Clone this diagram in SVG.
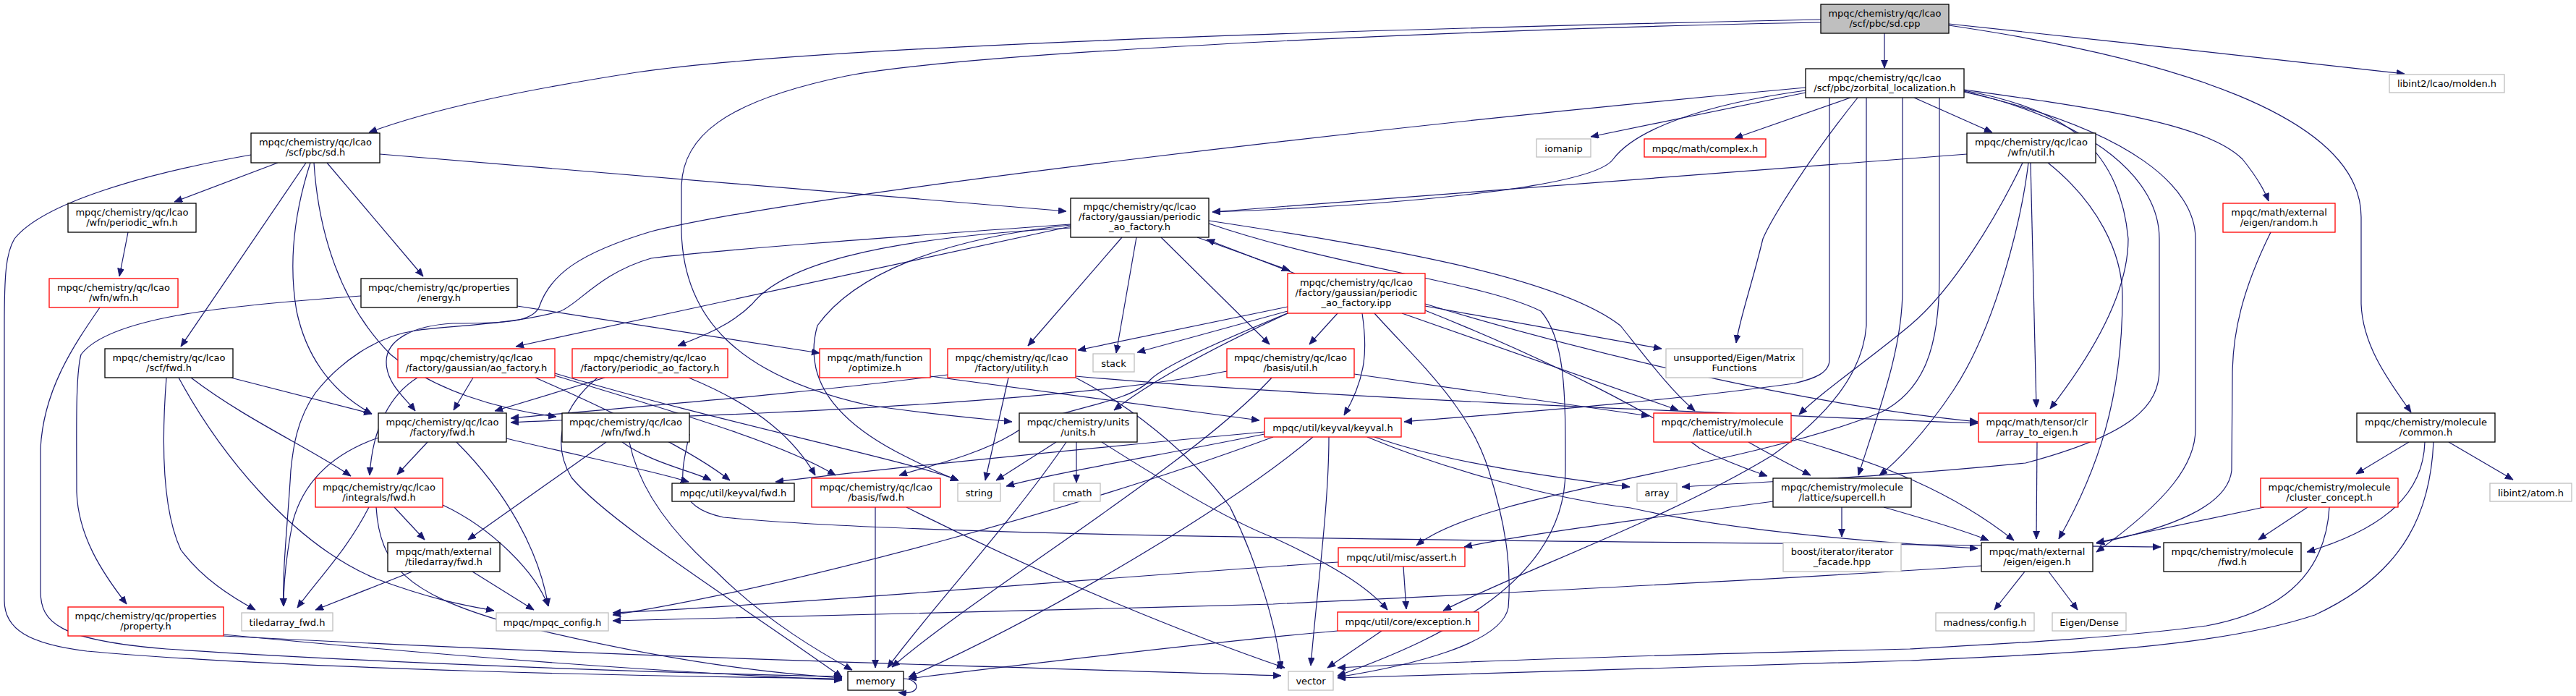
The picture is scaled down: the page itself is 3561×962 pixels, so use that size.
<svg xmlns="http://www.w3.org/2000/svg" width="3561" height="962" viewBox="0 0 3561 962">
<style>
.b rect{fill:#fff;stroke:#000;stroke-width:1.3}
.g rect{fill:#fff;stroke:#bfbfbf;stroke-width:1.3}
.r rect{fill:#fff;stroke:#f00;stroke-width:1.3}
.root rect{fill:#bfbfbf;stroke:#000;stroke-width:1.3}
text{font-family:'DejaVu Sans',sans-serif;font-size:13px;fill:#000;text-anchor:middle}
#edges path{fill:none;stroke:#191970;stroke-width:1.2;marker-end:url(#ah)}
</style>
<defs>
<marker id="ah" markerUnits="userSpaceOnUse" markerWidth="12" markerHeight="10" refX="11" refY="4.5" orient="auto"><path d="M0,0 L11,4.5 L0,9 z" fill="#191970" stroke="#191970" stroke-width="0.8"/></marker>
</defs>
<rect x="0" y="0" width="3561" height="962" fill="#fff"/>
<g id="edges">
<path d="M2605,46 L2605,94"/>
<path d="M2694,33 C2900,55 3150,82 3324,102"/>
<path d="M2694,35 C3000,80 3264,160 3264,300 L3264,420 C3266,480 3305,530 3333,570"/>
<path d="M2517,27 C2000,38 1150,60 880,100 C720,125 600,150 510,183"/>
<path d="M2517,31 C2100,38 1350,70 1170,105 C1000,140 942,190 942,260 L942,320 C945,440 1020,520 1200,560 C1280,572 1350,578 1399,583"/>
<path d="M384,225 L241,279"/>
<path d="M525,213 L1474,292"/>
<path d="M347,214 C200,240 60,280 20,330 C8,350 6,380 6,450 L6,830 C6,870 40,890 120,900 C400,925 900,935 1164,938"/>
<path d="M423,225 L250,479"/>
<path d="M429,225 C408,290 398,360 410,430 C425,500 465,545 514,572"/>
<path d="M434,225 C440,320 470,420 540,490 C600,540 690,566 769,576"/>
<path d="M452,225 L585,382"/>
<path d="M177,321 L165,382"/>
<path d="M138,425 C100,480 60,540 56,620 L56,817 C56,860 80,885 230,897 C500,915 900,930 1164,935"/>
<path d="M499,409 C300,423 150,440 112,490 C104,520 106,600 106,680 C108,740 140,790 175,835"/>
<path d="M715,423 L1133,488"/>
<path d="M309,877 C600,905 900,928 1164,940"/>
<path d="M309,879 C900,910 1400,922 1771,934"/>
<path d="M319,522 L514,572"/>
<path d="M230,522 C224,600 222,700 250,760 C280,800 320,825 353,843"/>
<path d="M247,522 C300,620 400,750 520,800 C600,830 650,838 683,844"/>
<path d="M264,522 C340,580 430,620 485,658"/>
<path d="M523,605 C460,627 420,665 405,720 C395,770 392,810 392,838"/>
<path d="M591,611 L549,656"/>
<path d="M631,611 C700,680 745,760 758,838"/>
<path d="M700,606 C800,630 900,650 952,666"/>
<path d="M838,611 L647,746"/>
<path d="M860,611 C900,640 960,652 983,664"/>
<path d="M870,611 C880,660 910,720 990,790 C1060,860 1140,905 1178,926"/>
<path d="M953,600 C940,660 930,700 1000,715 C1300,745 2200,748 2987,756"/>
<path d="M654,522 L627,567"/>
<path d="M577,522 C540,545 515,590 511,657"/>
<path d="M740,522 C850,570 960,625 1009,664"/>
<path d="M767,519 C900,560 1080,610 1155,657"/>
<path d="M767,516 C1000,585 1250,635 1325,664"/>
<path d="M1480,313 L713,479"/>
<path d="M1480,315 C1200,330 1080,370 1040,420 C1010,450 970,465 937,478"/>
<path d="M1551,328 L1421,478"/>
<path d="M1571,328 L1543,488"/>
<path d="M1605,328 L1755,476"/>
<path d="M1655,328 L1783,374"/>
<path d="M1790,378 L1668,331"/>
<path d="M1671,305 C1900,340 2150,380 2240,450 C2280,500 2310,540 2343,568"/>
<path d="M1671,309 C1850,370 2050,390 2130,430 C2165,470 2164,550 2164,650 C2164,800 2000,880 1849,934"/>
<path d="M1480,310 C1200,330 1000,345 900,357 C830,377 800,420 775,430 C700,450 620,450 574,457 C520,465 470,500 436,543 C410,580 405,620 402,650 C398,720 390,790 392,838"/>
<path d="M1480,311 C1300,330 1180,380 1130,450 C1110,520 1150,580 1250,630 C1280,645 1300,655 1325,664"/>
<path d="M2496,128 L2199,189"/>
<path d="M2558,135 L2398,191"/>
<path d="M2646,135 L2754,183"/>
<path d="M2715,124 C2900,150 3050,170 3100,220 C3120,245 3130,262 3136,278"/>
<path d="M2496,125 C2350,145 2260,180 2230,220 C2200,262 1900,285 1676,293"/>
<path d="M2719,213 L1676,293"/>
<path d="M2496,121 C1900,175 1100,270 900,320 C800,350 760,380 745,425 C735,445 700,447 626,447 C570,450 534,470 534,500 C534,530 560,550 574,568"/>
<path d="M2568,135 C2500,220 2450,300 2437,330 C2420,400 2405,440 2400,474"/>
<path d="M2529,135 L2529,497 C2529,515 2510,523 2480,530 C2300,555 2100,570 1941,583"/>
<path d="M2580,135 L2580,450 C2575,520 2520,580 2449,630 C2300,720 2100,790 1995,844"/>
<path d="M2630,135 L2630,400 C2630,480 2600,560 2569,657"/>
<path d="M2681,135 L2681,380 C2681,480 2660,540 2600,570 C2400,650 2050,680 1958,754"/>
<path d="M2715,125 C2850,150 2930,200 2942,330 C2942,400 2900,480 2834,565"/>
<path d="M2715,126 C2900,170 2985,250 2985,330 L2985,510 C2985,560 2950,600 2800,640 C2600,660 2450,665 2325,673"/>
<path d="M2715,127 C2950,180 3035,260 3035,330 L3035,593 C3035,640 3000,690 2898,763"/>
<path d="M3139,321 C3100,400 3086,460 3086,520 L3085,650 C3080,700 3000,730 2898,751"/>
<path d="M1780,424 L1490,484"/>
<path d="M1780,430 L1572,487"/>
<path d="M1780,433 C1700,470 1600,520 1540,567"/>
<path d="M1849,433 L1810,476"/>
<path d="M1883,433 C1890,480 1890,520 1858,574"/>
<path d="M1938,433 L2320,567"/>
<path d="M1970,420 C2200,490 2500,560 2734,583"/>
<path d="M1970,423 L2297,482"/>
<path d="M1900,433 C1960,500 2030,560 2058,650 C2080,720 2090,780 2085,840 C2075,890 1950,920 1849,936"/>
<path d="M1782,432 C1690,470 1610,505 1590,525 C1560,560 1450,565 1400,600 C1350,630 1280,645 1243,657"/>
<path d="M1960,425 C2150,500 2300,580 2350,620 C2390,640 2420,650 2443,658"/>
<path d="M1487,520 C1800,548 2300,568 2734,585"/>
<path d="M1394,522 L1362,664"/>
<path d="M1310,518 C1100,545 900,560 706,578"/>
<path d="M1487,522 C1560,560 1640,620 1700,700 C1740,780 1765,870 1771,925"/>
<path d="M1872,517 L2280,575"/>
<path d="M1758,522 C1650,640 1350,820 1233,922"/>
<path d="M1696,513 C1500,552 1100,570 880,578 C800,580 740,582 706,584"/>
<path d="M836,522 L684,568"/>
<path d="M952,522 C1052,563 1100,610 1127,657"/>
<path d="M826,522 C780,560 760,610 790,660 C840,720 1000,820 1164,936"/>
<path d="M1286,520 L1741,581"/>
<path d="M1460,611 L1377,664"/>
<path d="M1474,611 C1400,720 1280,850 1227,923"/>
<path d="M1488,611 L1488,667"/>
<path d="M1523,611 C1600,660 1700,720 1760,743 C1840,780 1890,810 1918,843"/>
<path d="M1900,604 C2000,640 2150,660 2253,673"/>
<path d="M1890,604 C2000,650 2150,690 2254,702 C2400,735 2600,750 2734,758"/>
<path d="M1837,604 C1837,700 1820,820 1812,920"/>
<path d="M1815,604 C1700,700 1450,850 1256,936"/>
<path d="M1748,597 C1500,620 1200,650 1072,666"/>
<path d="M1748,600 C1600,630 1450,655 1391,672"/>
<path d="M1760,604 C1500,700 1100,810 847,850"/>
<path d="M2417,611 C2450,630 2480,645 2503,657"/>
<path d="M2476,605 C2600,640 2700,680 2784,747"/>
<path d="M2451,693 C2250,720 2100,740 2024,756"/>
<path d="M2604,701 C2660,717 2720,735 2749,747"/>
<path d="M2546,701 L2546,742"/>
<path d="M2796,225 C2760,300 2700,400 2640,450 C2580,500 2520,540 2487,573"/>
<path d="M2804,225 C2795,300 2760,450 2700,540 C2660,600 2620,640 2598,657"/>
<path d="M2807,225 L2815,563"/>
<path d="M2831,225 C2900,280 2934,350 2934,410 C2934,550 2900,650 2846,745"/>
<path d="M2816,611 L2815,745"/>
<path d="M3330,611 L3257,655"/>
<path d="M3385,611 L3474,663"/>
<path d="M3352,611 C3350,680 3300,730 3189,763"/>
<path d="M3364,611 C3360,700 3330,790 3200,850 C3050,900 2800,905 2640,913 C2300,925 2000,932 1849,937"/>
<path d="M3220,701 C3215,790 3160,845 3050,865 C2900,885 2700,893 2640,897 C2300,905 2000,915 1849,923"/>
<path d="M3130,701 L2898,750"/>
<path d="M3190,701 L3122,746"/>
<path d="M2799,790 L2757,843"/>
<path d="M2832,790 L2872,843"/>
<path d="M2739,782 C2400,805 1900,828 1760,835 C1400,845 1000,855 847,858"/>
<path d="M1940,783 L1944,842"/>
<path d="M1850,777 C1500,800 1100,835 847,847"/>
<path d="M1910,872 L1835,923"/>
<path d="M1849,872 C1700,885 1400,920 1256,938"/>
<path d="M510,701 C480,760 440,800 411,840"/>
<path d="M545,701 L587,746"/>
<path d="M612,698 C680,730 740,790 758,838"/>
<path d="M520,701 C525,780 560,820 700,860 C900,910 1050,930 1164,937"/>
<path d="M570,790 L436,843"/>
<path d="M653,790 L738,843"/>
<path d="M1210,701 L1210,923"/>
<path d="M1253,701 C1450,800 1650,880 1776,923"/>
<path d="M1249,938 C1272,938 1276,962 1242,957"/>
</g>
<g id="n_sdcpp" class="root"><rect x="2517" y="6" width="177" height="40"/><text x="2605.5" y="22.5">mpqc/chemistry/qc/lcao</text><text x="2605.5" y="36.5">/scf/pbc/sd.cpp</text></g>
<g id="n_zorb" class="b"><rect x="2496" y="95" width="219" height="40"/><text x="2605.5" y="111.5">mpqc/chemistry/qc/lcao</text><text x="2605.5" y="125.5">/scf/pbc/zorbital_localization.h</text></g>
<g id="n_molden" class="g"><rect x="3303" y="103" width="159" height="25"/><text x="3382.5" y="120">libint2/lcao/molden.h</text></g>
<g id="n_sdh" class="b"><rect x="347" y="184" width="178" height="41"/><text x="436" y="201">mpqc/chemistry/qc/lcao</text><text x="436" y="215">/scf/pbc/sd.h</text></g>
<g id="n_iomanip" class="g"><rect x="2124" y="192" width="75" height="25"/><text x="2161.5" y="209.5">iomanip</text></g>
<g id="n_complex" class="r"><rect x="2273" y="192" width="168" height="25"/><text x="2357" y="209.5">mpqc/math/complex.h</text></g>
<g id="n_wfnutil" class="b"><rect x="2719" y="184" width="178" height="41"/><text x="2808" y="201">mpqc/chemistry/qc/lcao</text><text x="2808" y="215">/wfn/util.h</text></g>
<g id="n_random" class="r"><rect x="3073" y="281" width="155" height="40"/><text x="3150.5" y="297.5">mpqc/math/external</text><text x="3150.5" y="311.5">/eigen/random.h</text></g>
<g id="n_pwfn" class="b"><rect x="94" y="281" width="177" height="40"/><text x="182.5" y="297.5">mpqc/chemistry/qc/lcao</text><text x="182.5" y="311.5">/wfn/periodic_wfn.h</text></g>
<g id="n_paf" class="b"><rect x="1480" y="274" width="191" height="54"/><text x="1575.5" y="290">mpqc/chemistry/qc/lcao</text><text x="1575.5" y="304">/factory/gaussian/periodic</text><text x="1575.5" y="318">_ao_factory.h</text></g>
<g id="n_wfn" class="r"><rect x="68" y="385" width="178" height="40"/><text x="157" y="401.5">mpqc/chemistry/qc/lcao</text><text x="157" y="415.5">/wfn/wfn.h</text></g>
<g id="n_energy" class="b"><rect x="499" y="385" width="216" height="40"/><text x="607" y="401.5">mpqc/chemistry/qc/properties</text><text x="607" y="415.5">/energy.h</text></g>
<g id="n_ipp" class="r"><rect x="1780" y="378" width="190" height="55"/><text x="1875" y="394.5">mpqc/chemistry/qc/lcao</text><text x="1875" y="408.5">/factory/gaussian/periodic</text><text x="1875" y="422.5">_ao_factory.ipp</text></g>
<g id="n_aof" class="r"><rect x="550" y="482" width="217" height="40"/><text x="658.5" y="498.5">mpqc/chemistry/qc/lcao</text><text x="658.5" y="512.5">/factory/gaussian/ao_factory.h</text></g>
<g id="n_pafh" class="r"><rect x="791" y="482" width="215" height="40"/><text x="898.5" y="498.5">mpqc/chemistry/qc/lcao</text><text x="898.5" y="512.5">/factory/periodic_ao_factory.h</text></g>
<g id="n_optimize" class="r"><rect x="1133" y="482" width="153" height="40"/><text x="1209.5" y="498.5">mpqc/math/function</text><text x="1209.5" y="512.5">/optimize.h</text></g>
<g id="n_utility" class="r"><rect x="1310" y="482" width="177" height="40"/><text x="1398.5" y="498.5">mpqc/chemistry/qc/lcao</text><text x="1398.5" y="512.5">/factory/utility.h</text></g>
<g id="n_stack" class="g"><rect x="1511" y="489" width="57" height="25"/><text x="1539.5" y="506.5">stack</text></g>
<g id="n_butil" class="r"><rect x="1696" y="482" width="176" height="40"/><text x="1784" y="498.5">mpqc/chemistry/qc/lcao</text><text x="1784" y="512.5">/basis/util.h</text></g>
<g id="n_matfun" class="g"><rect x="2303" y="482" width="189" height="40"/><text x="2397.5" y="498.5">unsupported/Eigen/Matrix</text><text x="2397.5" y="512.5">Functions</text></g>
<g id="n_scffwd" class="b"><rect x="145" y="482" width="177" height="40"/><text x="233.5" y="498.5">mpqc/chemistry/qc/lcao</text><text x="233.5" y="512.5">/scf/fwd.h</text></g>
<g id="n_ffwd" class="b"><rect x="523" y="571" width="177" height="40"/><text x="611.5" y="587.5">mpqc/chemistry/qc/lcao</text><text x="611.5" y="601.5">/factory/fwd.h</text></g>
<g id="n_wfwd" class="b"><rect x="777" y="571" width="176" height="40"/><text x="865" y="587.5">mpqc/chemistry/qc/lcao</text><text x="865" y="601.5">/wfn/fwd.h</text></g>
<g id="n_units" class="b"><rect x="1409" y="571" width="163" height="40"/><text x="1490.5" y="587.5">mpqc/chemistry/units</text><text x="1490.5" y="601.5">/units.h</text></g>
<g id="n_keyval" class="r"><rect x="1748" y="578" width="189" height="26"/><text x="1842.5" y="596">mpqc/util/keyval/keyval.h</text></g>
<g id="n_lutil" class="r"><rect x="2286" y="571" width="190" height="40"/><text x="2381" y="587.5">mpqc/chemistry/molecule</text><text x="2381" y="601.5">/lattice/util.h</text></g>
<g id="n_a2e" class="r"><rect x="2735" y="571" width="162" height="40"/><text x="2816" y="587.5">mpqc/math/tensor/clr</text><text x="2816" y="601.5">/array_to_eigen.h</text></g>
<g id="n_common" class="b"><rect x="3258" y="571" width="191" height="40"/><text x="3353.5" y="587.5">mpqc/chemistry/molecule</text><text x="3353.5" y="601.5">/common.h</text></g>
<g id="n_ifwd" class="r"><rect x="436" y="661" width="176" height="40"/><text x="524" y="677.5">mpqc/chemistry/qc/lcao</text><text x="524" y="691.5">/integrals/fwd.h</text></g>
<g id="n_kvfwd" class="b"><rect x="929" y="668" width="169" height="25"/><text x="1013.5" y="685.5">mpqc/util/keyval/fwd.h</text></g>
<g id="n_bfwd" class="r"><rect x="1122" y="661" width="178" height="40"/><text x="1211" y="677.5">mpqc/chemistry/qc/lcao</text><text x="1211" y="691.5">/basis/fwd.h</text></g>
<g id="n_string" class="g"><rect x="1324" y="668" width="59" height="25"/><text x="1353.5" y="685.5">string</text></g>
<g id="n_cmath" class="g"><rect x="1457" y="668" width="64" height="25"/><text x="1489" y="685.5">cmath</text></g>
<g id="n_array" class="g"><rect x="2263" y="668" width="55" height="25"/><text x="2290.5" y="685.5">array</text></g>
<g id="n_supercell" class="b"><rect x="2451" y="661" width="191" height="40"/><text x="2546.5" y="677.5">mpqc/chemistry/molecule</text><text x="2546.5" y="691.5">/lattice/supercell.h</text></g>
<g id="n_cluster" class="r"><rect x="3125" y="661" width="190" height="40"/><text x="3220" y="677.5">mpqc/chemistry/molecule</text><text x="3220" y="691.5">/cluster_concept.h</text></g>
<g id="n_atom" class="g"><rect x="3442" y="668" width="113" height="25"/><text x="3498.5" y="685.5">libint2/atom.h</text></g>
<g id="n_tafwd" class="b"><rect x="536" y="750" width="155" height="40"/><text x="613.5" y="766.5">mpqc/math/external</text><text x="613.5" y="780.5">/tiledarray/fwd.h</text></g>
<g id="n_assert" class="r"><rect x="1850" y="757" width="175" height="26"/><text x="1937.5" y="775">mpqc/util/misc/assert.h</text></g>
<g id="n_eigen" class="b"><rect x="2739" y="750" width="154" height="40"/><text x="2816" y="766.5">mpqc/math/external</text><text x="2816" y="780.5">/eigen/eigen.h</text></g>
<g id="n_mfwd" class="b"><rect x="2991" y="750" width="190" height="40"/><text x="3086" y="766.5">mpqc/chemistry/molecule</text><text x="3086" y="780.5">/fwd.h</text></g>
<g id="n_boost" class="g"><rect x="2465" y="750" width="163" height="40"/><text x="2546.5" y="766.5">boost/iterator/iterator</text><text x="2546.5" y="780.5">_facade.hpp</text></g>
<g id="n_property" class="r"><rect x="94" y="839" width="215" height="40"/><text x="201.5" y="855.5">mpqc/chemistry/qc/properties</text><text x="201.5" y="869.5">/property.h</text></g>
<g id="n_tfwd" class="g"><rect x="334" y="847" width="126" height="25"/><text x="397" y="864.5">tiledarray_fwd.h</text></g>
<g id="n_config" class="g"><rect x="686" y="847" width="155" height="25"/><text x="763.5" y="864.5">mpqc/mpqc_config.h</text></g>
<g id="n_exception" class="r"><rect x="1849" y="846" width="195" height="26"/><text x="1946.5" y="864">mpqc/util/core/exception.h</text></g>
<g id="n_madness" class="g"><rect x="2676" y="847" width="136" height="25"/><text x="2744" y="864.5">madness/config.h</text></g>
<g id="n_dense" class="g"><rect x="2837" y="847" width="102" height="25"/><text x="2888" y="864.5">Eigen/Dense</text></g>
<g id="n_memory" class="b"><rect x="1172" y="928" width="77" height="26"/><text x="1210.5" y="946">memory</text></g>
<g id="n_vector" class="g"><rect x="1781" y="928" width="62" height="26"/><text x="1812" y="946">vector</text></g>
</svg>
